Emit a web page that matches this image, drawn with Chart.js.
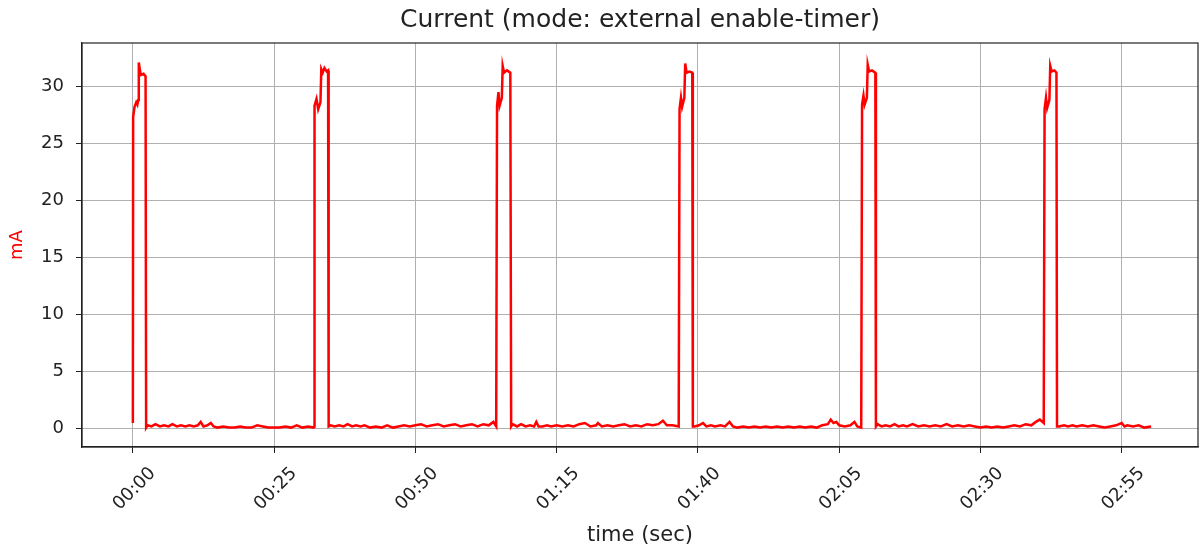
<!DOCTYPE html>
<html>
<head>
<meta charset="utf-8">
<script src="https://cdn.jsdelivr.net/npm/chart.js@4.4.1/dist/chart.umd.min.js"></script>
<style>
  html, body { margin: 0; padding: 0; background: #fff; }
  #wrap { width: 1200px; height: 548px; }
</style>
</head>
<body>
<div id="wrap"><canvas id="myChart" width="1200" height="548"></canvas></div>
<script>
// time in seconds, current in mA
const timeSec = [
  0.0, 0.05, 0.3, 0.6, 0.8, 0.95, 1.05, 1.2, 1.4, 1.9, 2.25, 2.35,
  2.6, 3.3, 4.0, 4.8, 5.5, 6.3, 7.0, 7.8, 8.5, 9.3, 10.0, 10.8, 11.5, 12.0, 12.5, 13.2, 13.8, 14.3,
  15.0, 16.0, 17.0, 18.0, 19.0, 20.0, 21.0, 22.0, 23.0, 24.0, 25.0, 26.0, 27.0, 28.0, 29.0, 30.0, 31.0, 32.0,
  32.1, 32.15, 32.5, 32.8, 33.2, 33.35, 33.6, 33.9, 34.3, 34.55, 34.65,
  35.0, 35.7, 36.5, 37.3, 38.0, 38.8, 39.5, 40.3, 41.0, 42.0, 43.0, 44.0, 45.0, 46.0, 47.0, 48.0, 49.0,
  50.0, 51.0, 52.0, 53.0, 54.0, 55.0, 56.0, 57.0, 58.0, 59.0, 60.0, 61.0, 62.0, 63.0, 63.8, 64.3,
  64.45, 64.7, 64.9, 65.3, 65.45, 65.7, 66.2, 66.8, 66.95,
  67.2, 68.0, 68.7, 69.5, 70.3, 71.0, 71.4, 71.8, 72.5, 73.3, 74.0, 75.0, 76.0, 77.0, 78.0, 79.0, 80.0,
  81.0, 82.0, 82.3, 83.0, 84.0, 85.0, 86.0, 87.0, 88.0, 89.0, 90.0, 91.0, 92.0, 93.0, 93.8, 94.5, 95.5, 96.6,
  96.75, 97.0, 97.2, 97.6, 97.75, 98.0, 98.5, 99.0, 99.1,
  99.4, 100.2, 100.9, 101.5, 102.3, 103.0, 104.0, 104.8, 105.6, 106.2, 107.0, 108.0, 109.0, 110.0, 111.0,
  112.0, 113.0, 114.0, 115.0, 116.0, 117.0, 118.0, 119.0, 120.0, 121.0, 122.0, 123.0, 123.5, 124.0, 124.5,
  125.0, 126.0, 127.0, 127.7, 128.2, 128.9,
  129.05, 129.3, 129.5, 129.9, 130.05, 130.3, 130.8, 131.4, 131.5,
  131.8, 132.5, 133.2, 134.0, 134.8, 135.5, 136.3, 137.0, 138.0, 139.0, 140.0, 141.0, 142.0, 143.0, 144.0,
  145.0, 146.0, 147.0, 148.0, 149.0, 150.0, 151.0, 152.0, 153.0, 154.0, 155.0, 156.0, 157.0, 158.0, 159.0,
  159.8, 160.5, 161.2,
  161.35, 161.6, 161.8, 162.2, 162.35, 162.6, 163.1, 163.45, 163.55,
  163.9, 164.8, 165.5, 166.3, 167.0, 168.0, 169.0, 170.0, 171.0, 172.0, 173.0, 174.0, 175.0, 175.5, 176.0,
  177.0, 178.0, 179.0, 180.2
];
const currentMA = [
  0.5, 27.3, 28.2, 28.6, 28.4, 28.8, 32.1, 31.6, 31.0, 31.1, 30.9, 0.1,
  0.3, 0.2, 0.4, 0.2, 0.3, 0.2, 0.4, 0.2, 0.3, 0.2, 0.3, 0.2, 0.3, 0.6, 0.2, 0.3, 0.5, 0.2,
  0.1, 0.2, 0.1, 0.1, 0.2, 0.1, 0.1, 0.3, 0.2, 0.1, 0.1, 0.1, 0.2, 0.1, 0.3, 0.1, 0.2, 0.1,
  0.2, 28.3, 28.9, 28.0, 28.6, 31.5, 31.2, 31.6, 31.3, 31.4, 0.2,
  0.3, 0.2, 0.3, 0.2, 0.4, 0.2, 0.3, 0.2, 0.3, 0.1, 0.2, 0.1, 0.3, 0.1, 0.2, 0.3, 0.2,
  0.3, 0.4, 0.2, 0.3, 0.4, 0.2, 0.3, 0.4, 0.2, 0.3, 0.4, 0.2, 0.4, 0.3, 0.6, 0.2,
  28.3, 29.5, 28.3, 29.0, 31.8, 31.2, 31.4, 31.2, 0.2,
  0.4, 0.2, 0.4, 0.2, 0.3, 0.2, 0.6, 0.2, 0.2, 0.3, 0.2, 0.3, 0.2, 0.3, 0.2, 0.4, 0.5,
  0.2, 0.3, 0.5, 0.2, 0.3, 0.2, 0.3, 0.4, 0.2, 0.3, 0.2, 0.4, 0.3, 0.4, 0.7, 0.3, 0.3, 0.2,
  28.0, 29.0, 28.2, 29.0, 32.0, 31.2, 31.3, 31.2, 0.2,
  0.2, 0.3, 0.5, 0.2, 0.3, 0.2, 0.3, 0.2, 0.6, 0.2, 0.1, 0.2, 0.1, 0.2, 0.1,
  0.2, 0.1, 0.2, 0.1, 0.2, 0.1, 0.2, 0.1, 0.2, 0.1, 0.3, 0.4, 0.8, 0.5, 0.6,
  0.3, 0.2, 0.3, 0.6, 0.2, 0.1,
  28.4, 29.2, 28.4, 29.0, 31.9, 31.3, 31.4, 31.2, 0.2,
  0.4, 0.2, 0.3, 0.2, 0.4, 0.2, 0.3, 0.2, 0.4, 0.2, 0.3, 0.2, 0.3, 0.2, 0.4,
  0.2, 0.3, 0.2, 0.3, 0.2, 0.1, 0.2, 0.1, 0.2, 0.1, 0.2, 0.3, 0.2, 0.4, 0.3,
  0.6, 0.8, 0.5,
  28.0, 29.0, 28.1, 28.8, 31.8, 31.3, 31.4, 31.2, 0.2,
  0.2, 0.3, 0.2, 0.3, 0.2, 0.3, 0.2, 0.3, 0.2, 0.1, 0.2, 0.3, 0.5, 0.2, 0.3,
  0.2, 0.3, 0.1, 0.2
];
const xTicks = [0, 25, 50, 75, 100, 125, 150, 175];
const yTicks = [0, 5, 10, 15, 20, 25, 30];

const fmt = s => String(Math.floor(s / 60)).padStart(2, "0") + ":" + String(s % 60).padStart(2, "0");

const frame = {
  id: "frame",
  afterDatasetsDraw(chart) {
    const a = chart.chartArea, ctx = chart.ctx;
    ctx.save();
    ctx.strokeStyle = "#222";
    ctx.lineWidth = 1.2;
    ctx.strokeRect(a.left, a.top, a.right - a.left, a.bottom - a.top);
    ctx.restore();
  }
};

Chart.defaults.font.family = "'DejaVu Sans', sans-serif";
Chart.defaults.color = "#222";

new Chart(document.getElementById("myChart").getContext("2d"), {
  type: "line",
  data: {
    datasets: [{
      data: timeSec.map((t, i) => ({ x: t, y: currentMA[i] })),
      borderColor: "#ff0000",
      borderWidth: 2.5,
      pointRadius: 0,
      tension: 0,
      fill: false
    }]
  },
  options: {
    responsive: false,
    animation: false,
    layout: { padding: { right: 2, left: 0, top: 0, bottom: 0 } },
    plugins: {
      legend: { display: false },
      tooltip: { enabled: false },
      title: {
        display: true,
        fullSize: false,
        text: "Current (mode: external enable-timer)",
        font: { size: 25, weight: "normal", lineHeight: 1.2 },
        color: "#222",
        padding: { top: 5, bottom: 8 }
      }
    },
    scales: {
      x: {
        type: "linear",
        min: -9,
        max: 188.5,
        afterBuildTicks: s => { s.ticks = xTicks.map(v => ({ value: v })); },
        afterFit: s => { s.height = 101; },
        ticks: {
          callback: v => fmt(v),
          maxRotation: 45,
          minRotation: 45,
          labelOffset: 20,
          padding: 10,
          font: { size: 18 },
          color: "#222"
        },
        grid: { color: "#b0b0b0", lineWidth: 1, tickColor: "#222", tickLength: 6 },
        border: { color: "#222", width: 1.2 },
        title: {
          display: true,
          text: "time (sec)",
          font: { size: 21 },
          color: "#222",
          padding: { top: 0, bottom: 0 }
        }
      },
      y: {
        min: -1.6,
        max: 33.8,
        afterBuildTicks: s => { s.ticks = yTicks.map(v => ({ value: v })); },
        afterFit: s => { s.width = 82; },
        ticks: { padding: 12, font: { size: 18 }, color: "#222" },
        grid: { color: "#b0b0b0", lineWidth: 1, tickColor: "#222", tickLength: 6 },
        border: { color: "#222", width: 1.2 },
        title: {
          display: true,
          text: "mA",
          font: { size: 18 },
          color: "#ff0000",
          padding: { top: 7, bottom: 0 }
        }
      }
    }
  },
  plugins: [frame]
});
</script>
</body>
</html>
